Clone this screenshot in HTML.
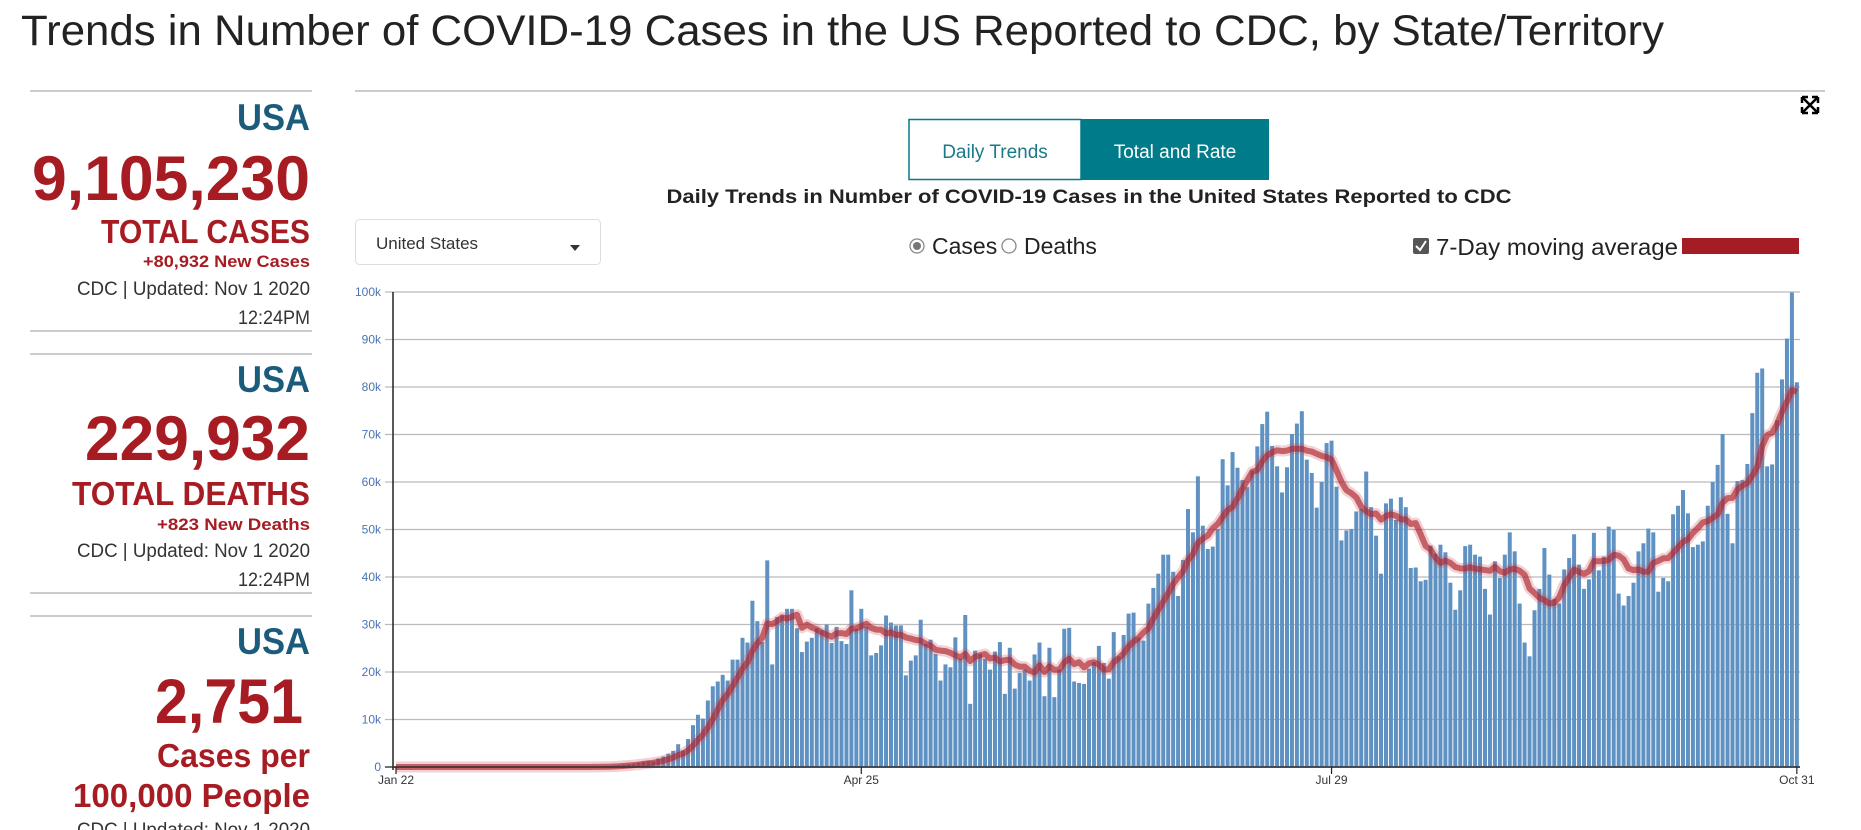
<!DOCTYPE html>
<html><head><meta charset="utf-8"><style>
html,body{margin:0;padding:0;background:#fff;width:1861px;height:830px;overflow:hidden}
svg{display:block;font-family:"Liberation Sans",sans-serif}
</style></head><body>
<svg id="page" width="1861" height="830" viewBox="0 0 1861 830">
<text x="21" y="45" font-size="43" fill="#222" textLength="1643" lengthAdjust="spacingAndGlyphs">Trends in Number of COVID-19 Cases in the US Reported to CDC, by State/Territory</text>

<g text-anchor="end">
<line x1="30" y1="91" x2="312" y2="91" stroke="#bbb" stroke-width="1.5"/>
<text x="310" y="130" font-size="37" font-weight="bold" fill="#1b5b7c" textLength="73" lengthAdjust="spacingAndGlyphs">USA</text>
<text x="310" y="200" font-size="63" font-weight="bold" fill="#a61c22" textLength="278" lengthAdjust="spacingAndGlyphs">9,105,230</text>
<text x="310" y="243" font-size="33" font-weight="bold" fill="#a61c22" textLength="209" lengthAdjust="spacingAndGlyphs">TOTAL CASES</text>
<text x="310" y="267" font-size="17" font-weight="bold" fill="#a61c22" textLength="167" lengthAdjust="spacingAndGlyphs">+80,932 New Cases</text>
<text x="310" y="295" font-size="19" fill="#333" textLength="233" lengthAdjust="spacingAndGlyphs">CDC | Updated: Nov 1 2020</text>
<text x="310" y="324" font-size="19" fill="#333" textLength="72" lengthAdjust="spacingAndGlyphs">12:24PM</text>
<line x1="30" y1="331" x2="312" y2="331" stroke="#bbb" stroke-width="1.5"/>
<line x1="30" y1="354" x2="312" y2="354" stroke="#bbb" stroke-width="1.5"/>
<text x="310" y="392" font-size="37" font-weight="bold" fill="#1b5b7c" textLength="73" lengthAdjust="spacingAndGlyphs">USA</text>
<text x="310" y="460" font-size="63" font-weight="bold" fill="#a61c22" textLength="225" lengthAdjust="spacingAndGlyphs">229,932</text>
<text x="310" y="505" font-size="33" font-weight="bold" fill="#a61c22" textLength="238" lengthAdjust="spacingAndGlyphs">TOTAL DEATHS</text>
<text x="310" y="530" font-size="17" font-weight="bold" fill="#a61c22" textLength="153" lengthAdjust="spacingAndGlyphs">+823 New Deaths</text>
<text x="310" y="557" font-size="19" fill="#333" textLength="233" lengthAdjust="spacingAndGlyphs">CDC | Updated: Nov 1 2020</text>
<text x="310" y="586" font-size="19" fill="#333" textLength="72" lengthAdjust="spacingAndGlyphs">12:24PM</text>
<line x1="30" y1="593" x2="312" y2="593" stroke="#bbb" stroke-width="1.5"/>
<line x1="30" y1="616" x2="312" y2="616" stroke="#bbb" stroke-width="1.5"/>
<text x="310" y="654" font-size="37" font-weight="bold" fill="#1b5b7c" textLength="73" lengthAdjust="spacingAndGlyphs">USA</text>
<text x="303" y="723" font-size="63" font-weight="bold" fill="#a61c22" textLength="148" lengthAdjust="spacingAndGlyphs">2,751</text>
<text x="310" y="767" font-size="33" font-weight="bold" fill="#a61c22" textLength="153" lengthAdjust="spacingAndGlyphs">Cases per</text>
<text x="310" y="807" font-size="33" font-weight="bold" fill="#a61c22" textLength="237" lengthAdjust="spacingAndGlyphs">100,000 People</text>
<text x="310" y="836" font-size="19" fill="#333" textLength="233" lengthAdjust="spacingAndGlyphs">CDC | Updated: Nov 1 2020</text>
</g>

<line x1="355" y1="91" x2="1825" y2="91" stroke="#bbb" stroke-width="1.5"/>
<g stroke="#000" stroke-width="2.5" fill="none">
<path d="M1803 98 L1817 112 M1817 98 L1803 112"/>
<path d="M1802 97 h6 M1802 97 v6 M1818 97 h-6 M1818 97 v6 M1802 113 h6 M1802 113 v-6 M1818 113 h-6 M1818 113 v-6"/>
</g>

<g>
<rect x="909" y="119.5" width="172" height="60" fill="#fff" stroke="#007b8a" stroke-width="1.5"/>
<text x="995" y="158" font-size="19" fill="#1a7a88" text-anchor="middle">Daily Trends</text>
</g>
<g>
<rect x="1081" y="119" width="188" height="61" fill="#007b8a"/>
<text x="1175" y="158" font-size="19" fill="#fff" text-anchor="middle">Total and Rate</text>
</g>
<text x="1089" y="203" font-size="19" font-weight="bold" fill="#222" text-anchor="middle" textLength="845" lengthAdjust="spacingAndGlyphs">Daily Trends in Number of COVID-19 Cases in the United States Reported to CDC</text>

<g>
<rect x="355.5" y="219.5" width="245" height="45" rx="4" fill="#fff" stroke="#ddd"/>
<text x="376" y="249" font-size="17" fill="#333">United States</text>
<path d="M570 245 L580 245 L575 251 Z" fill="#333"/>
</g>
<g>
<circle cx="917" cy="246" r="7" fill="#fff" stroke="#888" stroke-width="1.3"/>
<circle cx="917" cy="246" r="4" fill="#777"/>
<text x="932" y="254" font-size="23" fill="#222">Cases</text>
</g>
<g>
<circle cx="1009" cy="246" r="7" fill="#fff" stroke="#888" stroke-width="1.3"/>
<text x="1024" y="254" font-size="23" fill="#222">Deaths</text>
</g>
<g>
<rect x="1413" y="238" width="16" height="16" rx="2" fill="#555"/>
<path d="M1416 246 L1420 250 L1426 241" stroke="#fff" stroke-width="2" fill="none"/>
<text x="1436" y="255" font-size="23" fill="#222" textLength="242" lengthAdjust="spacingAndGlyphs">7-Day moving average</text>
</g>
<rect x="1682" y="238" width="117" height="16" fill="#a51c24"/>

<g id="grid"></g>
<g id="ylabels"></g>
<g id="bars"></g>
<g id="avg"></g>
<g id="xaxis"></g>
</svg>
<script>
const prefixCases = [0,0,0,0,0,0,0,0,0,0,0,0,0,0,0,0,0,0,0,0,0,0,0,0,0,0,0,0,0,0,0,0,0,0,0,0,0,0,
0.02,0.03,0.05,0.1,0.1,0.2,0.3,0.4,0.5,0.6,0.7,0.9,1.1,1.3,1.2,1.8,2.2];
const springCases = [2.8,3.4,4.8,3.5,5.9,8.8,11,10.2,14,17,18,19.4,18.2,22.6,22.6,27.2,26.2,35,30.7,26.3,43.5,21.6,31.6,31.9,33.3,33.3,29.2,24.2,26.4,27.2,29.2,28.8,30,26.1,29.5,26.5,25.9,37.2,29.1,33.3,29.5,23.5,24];
const mayJuneCases = [25.6,31.9,30.4,29.8,29.8,19.3,22.4,23.5,31,25.9,26.8,23.8,18.2,21.6,21,27.3,22.8,32,13.3,24.5,23.8,22.8,20.5,24.3,26.3,15.4,25.1,16.5,19.8,20.5,18.2,23.7,26.2,14.9,25.1,14.7,20.5,29.1,29.3,18,17.7,17.5,20.7,22.1,25.5,21.9];
const summerCases = [18.6,28.4,23.3,27.8,32.3,32.5,27.3,26.6,34.4,37.7,40.7,44.7,44.7,41.1,36,43.6,54.3,49.4,61.2,50.8,45.9,46.4,50.1,64.8,59.3,66.3,63,60.4,58.9,62.4,67.5,72.2,74.8,67.6,63.3,57.8,63.1,70.1,72.3,74.9,64.7,61.9,54.6,60,68.2,68.7];
const augSepCases = [59,47.7,49.8,50.1,53.8,54.3,62.2,54.7,48.7,40.7,55.5,56.5,52,56.8,54.7,41.9,42,39.1,39.4,46.6,44.9,46.8,45.2,38.8,33.1,37.2,46.5,46.8,44.7,44.3,37.5,32.1,43.3,39.8,44.7,49.4,45.4,34.4,26.2,23.3,33,37.5,46.1,40.5,35.4,34.4,41.6];
const fallCases = [44,49,42.6,37.5,39.5,49.3,41.4,44.3,50.6,49.9,36.5,34,36,38.8,45.4,47.1,50.2,49.4,36.9,39.8,39.1,53.2,55,58.3,53.4,46.3,46.8,47.5,55,60,63.6,70.1,53.3,47.1,60.2,60.4,63.8,74.5,83,83.9,63.3,63.7,73,81.6,90.2,99.9,81];
const yTicks = [0,10,20,30,40,50,60,70,80,90,100];
const yTickLabels = ["0","10k","20k","30k","40k","50k","60k","70k","80k","90k","100k"];
const xTickDays = [0,94,189,283];
const xTickLabels = ["Jan 22","Apr 25","Jul 29","Oct 31"];

const cases = prefixCases.concat(springCases, mayJuneCases, summerCases, augSepCases, fallCases);
const NS = "http://www.w3.org/2000/svg";
const X0 = 396, PITCH = 4.95, Y0 = 767, YTOP = 292, YMAX = 100, XEND = 1800;
const xs = d => X0 + d * PITCH;
const ys = v => Y0 - v * (Y0 - YTOP) / YMAX;
function mk(tag, attrs, parent){const e=document.createElementNS(NS,tag);for(const k in attrs)e.setAttribute(k,attrs[k]);parent.appendChild(e);return e;}
const grid = document.getElementById('grid'), yl = document.getElementById('ylabels');
yTicks.forEach((t,i)=>{
  const g = mk('line',{x1:385,x2:XEND,y1:ys(t),y2:ys(t),stroke:i===0?'#444':'#bbb','stroke-width':i===0?1.5:1.3},grid);
  
  
  const tx = mk('text',{x:381,y:ys(t)+4,'font-size':12,fill:'#4a74b4','text-anchor':'end'},yl);
  tx.textContent = yTickLabels[i];
  
  
});
mk('line',{x1:393,x2:393,y1:ys(100),y2:Y0+3,stroke:'#222','stroke-width':1.5},yl);
const bars = document.getElementById('bars');
cases.forEach((v,d)=>{
  if(v<=0) return;
  const r = mk('rect',{x:xs(d)-2,y:ys(v),width:4,height:Math.max(0,Y0-ys(v)),fill:'#5f92c3'},bars);
  
  
});
const avg = cases.map((v,d)=>{const s=cases.slice(Math.max(0,d-6),d+1);return s.reduce((a,b)=>a+b,0)/s.length;});
const pts = avg.map((v,d)=>xs(d).toFixed(1)+','+ys(v).toFixed(1)).join(' ');
const avgG = document.getElementById('avg');
mk('polyline',{points:pts,fill:'none',stroke:'rgba(200,70,80,0.25)','stroke-width':11,'stroke-linejoin':'round'},avgG);
const pl = mk('polyline',{points:pts,fill:'none',stroke:'rgba(175,35,45,0.65)','stroke-width':6,'stroke-linejoin':'round'},avgG);


const xa = document.getElementById('xaxis');
mk('line',{x1:393,x2:XEND,y1:Y0,y2:Y0,stroke:'#333','stroke-width':1.5},xa);
xTickDays.forEach((d,i)=>{
  mk('line',{x1:xs(d),x2:xs(d),y1:Y0,y2:Y0+7,stroke:'#222','stroke-width':1.2},xa);
  const t = mk('text',{x:xs(d),y:784,'font-size':12,fill:'#333','text-anchor':'middle'},xa);
  t.textContent = xTickLabels[i];
  
  
});
</script>
</body></html>
